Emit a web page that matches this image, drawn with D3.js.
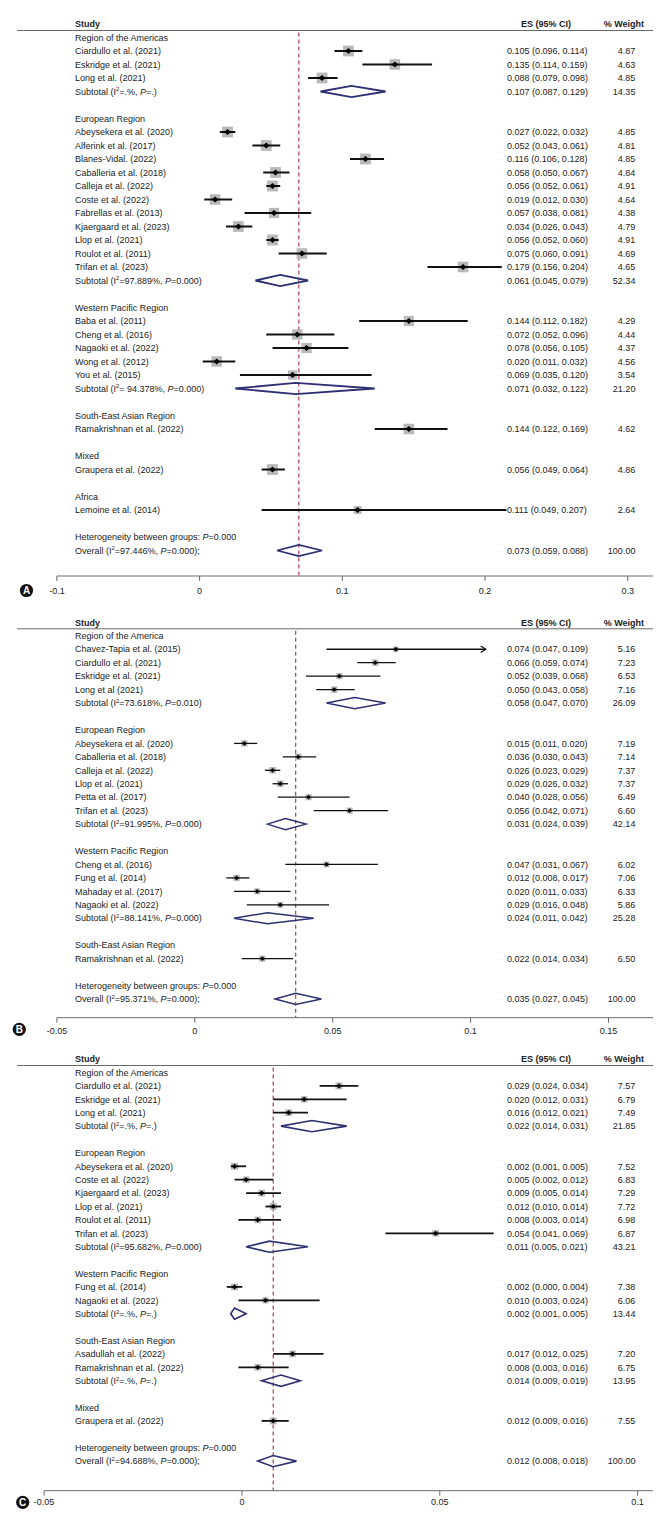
<!DOCTYPE html>
<html><head><meta charset="utf-8">
<script src="https://cdn.jsdelivr.net/npm/d3@7"></script>
<style>
body{margin:0;background:#fff}
svg text{font-family:"Liberation Sans",Arial,Helvetica,sans-serif;fill:#222}
</style>
</head><body>
<svg id="chart" width="664" height="1527"></svg>
<script>
// ================= PANEL A DATA =================
const aGroups = ["Region of the Americas","European Region","Western Pacific Region","South-East Asian Region","Mixed","Africa"];
const aStudies = ["Ciardullo et al. (2021)","Eskridge et al. (2021)","Long et al. (2021)",
  "Abeysekera et al. (2020)","Alferink et al. (2017)","Blanes-Vidal. (2022)","Caballeria et al. (2018)","Calleja et al. (2022)","Coste et al. (2022)","Fabrellas et al. (2013)","Kjaergaard et al. (2023)","Llop et al. (2021)","Roulot et al. (2011)","Trifan et al. (2023)",
  "Baba et al. (2011)","Cheng et al. (2016)","Nagaoki et al. (2022)","Wong et al. (2012)","You et al. (2015)",
  "Ramakrishnan et al. (2022)","Graupera et al. (2022)","Lemoine et al. (2014)"];
const aStudyGroup = [0,0,0, 1,1,1,1,1,1,1,1,1,1,1, 2,2,2,2,2, 3,4,5];
const aES = [0.105,0.135,0.088, 0.027,0.052,0.116,0.058,0.056,0.019,0.057,0.034,0.056,0.075,0.179, 0.144,0.072,0.078,0.020,0.069, 0.144,0.056,0.111];
const aLo = [0.096,0.114,0.079, 0.022,0.043,0.106,0.050,0.052,0.012,0.038,0.026,0.052,0.060,0.156, 0.112,0.052,0.056,0.011,0.035, 0.122,0.049,0.049];
const aHi = [0.114,0.159,0.098, 0.032,0.061,0.128,0.067,0.061,0.030,0.081,0.043,0.060,0.091,0.204, 0.182,0.096,0.105,0.032,0.120, 0.169,0.064,0.207];
const aWeight = [4.87,4.63,4.85, 4.85,4.81,4.85,4.84,4.91,4.64,4.38,4.79,4.91,4.69,4.65, 4.29,4.44,4.37,4.56,3.54, 4.62,4.86,2.64];
const aArrow = aStudies.map(() => false);
const aSubES = [0.107,0.061,0.071,null,null,null];
const aSubLo = [0.087,0.045,0.032,null,null,null];
const aSubHi = [0.129,0.079,0.122,null,null,null];
const aSubWeight = [14.35,52.34,21.20,null,null,null];
const aSubI2 = [".","97.889"," 94.378",null,null,null];
const aSubP = [".","0.000","0.000",null,null,null];
const aOverall = [0.073,0.059,0.088];
const aOverallWeight = 100.00;
const aOverallI2 = "97.446";
const aOverallP = "0.000";
const aHetP = "0.000";
const aTicks = [-0.1,0,0.1,0.2,0.3];
const aTickLabels = ["-0.1","0","0.1","0.2","0.3"];

// ================= PANEL B DATA =================
const bGroups = ["Region of the America","European Region","Western Pacific Region","South-East Asian Region"];
const bStudies = ["Chavez-Tapia et al. (2015)","Ciardullo et al. (2021)","Eskridge et al. (2021)","Long et al (2021)",
  "Abeysekera et al. (2020)","Caballeria et al. (2018)","Calleja et al. (2022)","Llop et al. (2021)","Petta et al. (2017)","Trifan et al. (2023)",
  "Cheng et al. (2016)","Fung et al. (2014)","Mahaday et al. (2017)","Nagaoki et al. (2022)",
  "Ramakrishnan et al. (2022)"];
const bStudyGroup = [0,0,0,0, 1,1,1,1,1,1, 2,2,2,2, 3];
const bES = [0.074,0.066,0.052,0.050, 0.015,0.036,0.026,0.029,0.040,0.056, 0.047,0.012,0.020,0.029, 0.022];
const bLo = [0.047,0.059,0.039,0.043, 0.011,0.030,0.023,0.026,0.028,0.042, 0.031,0.008,0.011,0.016, 0.014];
const bHi = [0.109,0.074,0.068,0.058, 0.020,0.043,0.029,0.032,0.056,0.071, 0.067,0.017,0.033,0.048, 0.034];
const bWeight = [5.16,7.23,6.53,7.16, 7.19,7.14,7.37,7.37,6.49,6.60, 6.02,7.06,6.33,5.86, 6.50];
const bArrow = [true,false,false,false, false,false,false,false,false,false, false,false,false,false, false];
const bSubES = [0.058,0.031,0.024,null];
const bSubLo = [0.047,0.024,0.011,null];
const bSubHi = [0.070,0.039,0.042,null];
const bSubWeight = [26.09,42.14,25.28,null];
const bSubI2 = ["73.618","91.995","88.141",null];
const bSubP = ["0.010","0.000","0.000",null];
const bOverall = [0.035,0.027,0.045];
const bOverallWeight = 100.00;
const bOverallI2 = "95.371";
const bOverallP = "0.000";
const bHetP = "0.000";
const bTicks = [-0.05,0,0.05,0.1,0.15];
const bTickLabels = ["-0.05","0","0.05","0.1","0.15"];

// ================= PANEL C DATA =================
const cGroups = ["Region of the Americas","European Region","Western Pacific Region","South-East Asian Region","Mixed"];
const cStudies = ["Ciardullo et al. (2021)","Eskridge et al. (2021)","Long et al. (2021)",
  "Abeysekera et al. (2020)","Coste et al. (2022)","Kjaergaard et al. (2023)","Llop et al. (2021)","Roulot et al. (2011)","Trifan et al. (2023)",
  "Fung et al. (2014)","Nagaoki et al. (2022)",
  "Asadullah et al. (2022)","Ramakrishnan et al. (2022)",
  "Graupera et al. (2022)"];
const cStudyGroup = [0,0,0, 1,1,1,1,1,1, 2,2, 3,3, 4];
const cES = [0.029,0.020,0.016, 0.002,0.005,0.009,0.012,0.008,0.054, 0.002,0.010, 0.017,0.008, 0.012];
const cLo = [0.024,0.012,0.012, 0.001,0.002,0.005,0.010,0.003,0.041, 0.000,0.003, 0.012,0.003, 0.009];
const cHi = [0.034,0.031,0.021, 0.005,0.012,0.014,0.014,0.014,0.069, 0.004,0.024, 0.025,0.016, 0.016];
const cWeight = [7.57,6.79,7.49, 7.52,6.83,7.29,7.72,6.98,6.87, 7.38,6.06, 7.20,6.75, 7.55];
const cArrow = cStudies.map(() => false);
const cSubES = [0.022,0.011,0.002,0.014,null];
const cSubLo = [0.014,0.005,0.001,0.009,null];
const cSubHi = [0.031,0.021,0.005,0.019,null];
const cSubWeight = [21.85,43.21,13.44,13.95,null];
const cSubI2 = [".","95.682",".",".",null];
const cSubP = [".","0.000",".",".",null];
const cOverall = [0.012,0.008,0.018];
const cOverallWeight = 100.00;
const cOverallI2 = "94.688";
const cOverallP = "0.000";
const cHetP = "0.000";
const cTicks = [-0.05,0,0.05,0.1];
const cTickLabels = ["-0.05","0","0.05","0.1"];

// ================= LAYOUT (positions / styles) =================
const COL = {label: 74.9, es: 507, esHead: 546, w: 635.4, wHead: 644, lineL: 17, right: 653};
const FS = 9;
const C_DIAMOND = "#2d3171", C_DASH = "#a8404f", C_BOX = "#b9b9b9", C_AXIS = "#6a6a6a";

const panels = [
  {d:{groups:aGroups,studies:aStudies,grp:aStudyGroup,es:aES,lo:aLo,hi:aHi,w:aWeight,arrow:aArrow,
      sES:aSubES,sLo:aSubLo,sHi:aSubHi,sW:aSubWeight,sI2:aSubI2,sP:aSubP,
      ov:aOverall,ovW:aOverallWeight,ovI2:aOverallI2,ovP:aOverallP,het:aHetP,ticks:aTicks,tickLabels:aTickLabels},
   top:24, step:13.5, axisY:576, labelY:590.7,
   markDom:[0,0.2], markRng:[185.7,495.6], axDom:[-0.1,0.3], axRng:[56.9,627.7],
   letter:"A", cx:26.5, cy:590.5, boxK:4.9, ciW:2, ptW:3.3, ptH:3.0, dW:1.8},
  {d:{groups:bGroups,studies:bStudies,grp:bStudyGroup,es:bES,lo:bLo,hi:bHi,w:bWeight,arrow:bArrow,
      sES:bSubES,sLo:bSubLo,sHi:bSubHi,sW:bSubWeight,sI2:bSubI2,sP:bSubP,
      ov:bOverall,ovW:bOverallWeight,ovI2:bOverallI2,ovP:bOverallP,het:bHetP,ticks:bTicks,tickLabels:bTickLabels},
   top:622.3, step:13.45, axisY:1017.7, labelY:1031,
   markDom:[0,0.1], markRng:[205.8,462.6], axDom:[-0.05,0.15], axRng:[56.9,608.5],
   letter:"B", cx:19.3, cy:1029.3, boxK:2.4, ciW:1.3, ptW:2.4, ptH:2.4, dW:1.5},
  {d:{groups:cGroups,studies:cStudies,grp:cStudyGroup,es:cES,lo:cLo,hi:cHi,w:cWeight,arrow:cArrow,
      sES:cSubES,sLo:cSubLo,sHi:cSubHi,sW:cSubWeight,sI2:cSubI2,sP:cSubP,
      ov:cOverall,ovW:cOverallWeight,ovI2:cOverallI2,ovP:cOverallP,het:cHetP,ticks:cTicks,tickLabels:cTickLabels},
   top:1059, step:13.4, axisY:1490.7, labelY:1501.7,
   markDom:[0,0.05], markRng:[226.8,420.2], axDom:[-0.05,0.1], axRng:[44.1,637.6],
   letter:"C", cx:22.7, cy:1502.3, boxK:2.5, ciW:1.8, ptW:2.6, ptH:2.6, dW:1.6}
];

const svg = d3.select("#chart");
const f3 = d3.format(".3f"), f2 = d3.format(".2f");

function richText(g, x, y, parts, anchor) {
  const t = g.append("text").attr("x", x).attr("y", y).attr("font-size", FS)
    .attr("text-anchor", anchor || "start");
  let pendingDy = 0;
  parts.forEach(p => {
    const ts = t.append("tspan").text(p.t);
    if (p.sup) { ts.attr("dy", -3.3).attr("font-size", 5.8); pendingDy = 3.3; }
    else { if (pendingDy) { ts.attr("dy", pendingDy); pendingDy = 0; } }
    if (p.it) ts.attr("font-style", "italic");
  });
  return t;
}
const subParts = (i2, p) => [{t:"Subtotal (I"},{t:"2",sup:true},{t:"="+i2+"%, "},{t:"P",it:true},{t:"="+p+")"}];
const ovParts = (i2, p) => [{t:"Overall (I"},{t:"2",sup:true},{t:"="+i2+"%, "},{t:"P",it:true},{t:"="+p+");"}];
const hetParts = p => [{t:"Heterogeneity between groups: "},{t:"P",it:true},{t:"="+p}];
const esText = (e, l, h) => f3(e) + " (" + f3(l) + ", " + f3(h) + ")";

panels.forEach(P => {
  const d = P.d;
  const g = svg.append("g");
  const x = d3.scaleLinear().domain(P.markDom).range(P.markRng);
  const xAx = d3.scaleLinear().domain(P.axDom).range(P.axRng);

  // build rows
  const rows = [];
  d.groups.forEach((gname, gi) => {
    rows.push({type:"group", label:gname});
    d.studies.forEach((s, i) => { if (d.grp[i] === gi) rows.push({type:"study", i}); });
    if (d.sES[gi] !== null) rows.push({type:"sub", gi});
    rows.push({type:"blank"});
  });
  rows.push({type:"het"});
  rows.push({type:"overall"});
  const rowY = i => P.top + 13.5 + i * P.step;
  const tb = 3.2; // baseline offset

  // header
  g.append("text").attr("x", COL.label).attr("y", P.top + tb).attr("font-size", FS).attr("font-weight", "bold").text("Study");
  g.append("text").attr("x", COL.esHead).attr("y", P.top + tb).attr("font-size", FS).attr("font-weight", "bold").attr("text-anchor", "middle").text("ES (95% CI)");
  g.append("text").attr("x", COL.wHead).attr("y", P.top + tb).attr("font-size", FS).attr("font-weight", "bold").attr("text-anchor", "end").text("% Weight");
  g.append("line").attr("x1", COL.lineL).attr("x2", COL.right).attr("y1", P.top + 6.5).attr("y2", P.top + 6.5)
    .attr("stroke", C_AXIS).attr("stroke-width", 1);

  // dashed overall line
  g.append("line").attr("x1", x(d.ov[0])).attr("x2", x(d.ov[0]))
    .attr("y1", P.top + 8.5).attr("y2", P.axisY)
    .attr("stroke", C_DASH).attr("stroke-width", 1.2).attr("stroke-dasharray", "4,3");

  rows.forEach((r, ri) => {
    const y = rowY(ri);
    if (r.type === "group") {
      g.append("text").attr("x", COL.label).attr("y", y + tb).attr("font-size", FS).text(r.label);
    } else if (r.type === "study") {
      const i = r.i;
      g.append("text").attr("x", COL.label).attr("y", y + tb).attr("font-size", FS).text(d.studies[i]);
      g.append("text").attr("x", COL.es).attr("y", y + tb).attr("font-size", FS).text(esText(d.es[i], d.lo[i], d.hi[i]));
      g.append("text").attr("x", COL.w).attr("y", y + tb).attr("font-size", FS).attr("text-anchor", "end").text(f2(d.w[i]));
      const side = P.boxK * Math.sqrt(d.w[i]);
      g.append("rect").attr("x", x(d.es[i]) - side / 2).attr("y", y - side / 2)
        .attr("width", side).attr("height", side).attr("fill", C_BOX);
      g.append("line").attr("x1", x(d.lo[i])).attr("x2", x(d.hi[i])).attr("y1", y).attr("y2", y)
        .attr("stroke", "#111").attr("stroke-width", P.ciW);
      if (d.arrow[i]) {
        const tx = x(d.hi[i]);
        g.append("path").attr("d", `M${tx-5},${y-3.2}L${tx},${y}L${tx-5},${y+3.2}`)
          .attr("fill", "none").attr("stroke", "#111").attr("stroke-width", P.ciW);
      }
      const cx = x(d.es[i]);
      g.append("path").attr("d", `M${cx-P.ptW},${y}L${cx},${y-P.ptH}L${cx+P.ptW},${y}L${cx},${y+P.ptH}Z`).attr("fill", "#000");
    } else if (r.type === "sub" || r.type === "overall") {
      let e, l, h, w, parts;
      if (r.type === "sub") {
        const gi = r.gi;
        e = d.sES[gi]; l = d.sLo[gi]; h = d.sHi[gi]; w = d.sW[gi];
        parts = subParts(d.sI2[gi], d.sP[gi]);
      } else {
        e = d.ov[0]; l = d.ov[1]; h = d.ov[2]; w = d.ovW;
        parts = ovParts(d.ovI2, d.ovP);
      }
      richText(g, COL.label, y + tb, parts);
      g.append("text").attr("x", COL.es).attr("y", y + tb).attr("font-size", FS).text(esText(e, l, h));
      g.append("text").attr("x", COL.w).attr("y", y + tb).attr("font-size", FS).attr("text-anchor", "end").text(f2(w));
      const hh = 5.6;
      g.append("path").attr("d", `M${x(l)},${y}L${x(e)},${y-hh}L${x(h)},${y}L${x(e)},${y+hh}Z`)
        .attr("fill", "none").attr("stroke", C_DIAMOND).attr("stroke-width", P.dW).attr("stroke-linejoin", "miter");
    } else if (r.type === "het") {
      richText(g, COL.label, y + tb, hetParts(d.het));
    }
  });

  // axis
  g.append("line").attr("x1", xAx(d.ticks[0])).attr("x2", COL.right).attr("y1", P.axisY).attr("y2", P.axisY)
    .attr("stroke", C_AXIS).attr("stroke-width", 1);
  d.ticks.forEach((t, i) => {
    g.append("line").attr("x1", xAx(t)).attr("x2", xAx(t)).attr("y1", P.axisY).attr("y2", P.axisY + 5)
      .attr("stroke", C_AXIS).attr("stroke-width", 1);
    g.append("text").attr("x", xAx(t)).attr("y", P.labelY + tb).attr("font-size", FS).attr("text-anchor", "middle").text(d.tickLabels[i]);
  });

  // panel letter
  g.append("circle").attr("cx", P.cx).attr("cy", P.cy).attr("r", 6.6).attr("fill", "#111");
  g.append("text").attr("x", P.cx).attr("y", P.cy + 3.6).attr("font-size", 10).attr("font-weight", "bold")
    .attr("text-anchor", "middle").style("fill", "#fff").text(P.letter);
});
</script>
</body></html>
